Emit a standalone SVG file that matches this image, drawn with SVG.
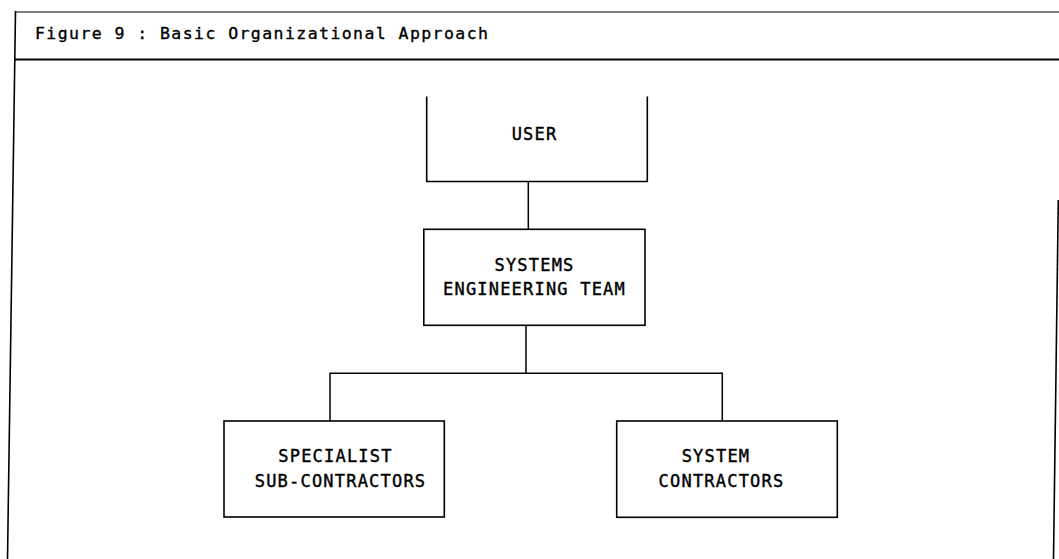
<svg xmlns="http://www.w3.org/2000/svg" width="1059" height="559" viewBox="0 0 1059 559">
  <style>
    .ln { fill: none; stroke: #000; stroke-width: 1.5; }
    .box { fill: none; stroke: #000; stroke-width: 1.6; }
    .lbl { font-family: "DejaVu Sans Mono", "Liberation Mono", monospace; font-size: 17px; letter-spacing: 1.2px; fill: #000; stroke: #000; stroke-width: 0.4; text-anchor: middle; }
    .title { font-family: "DejaVu Sans Mono", "Liberation Mono", monospace; font-size: 16.5px; fill: #000; stroke: #000; stroke-width: 0.35; }
  </style>
  <rect x="0" y="0" width="1059" height="559" fill="#fff"/>
  <g id="frame">
    <line x1="15" y1="12" x2="1059" y2="12" stroke="#555" stroke-width="1.5"/>
    <line x1="15" y1="59.5" x2="1059" y2="59.5" stroke="#000" stroke-width="1.8"/>
    <line x1="15.5" y1="11" x2="7.5" y2="559" stroke="#000" stroke-width="1.6"/>
    <line x1="1058.3" y1="200" x2="1053.5" y2="559" stroke="#000" stroke-width="1.6"/>
    <text class="title" x="35" y="38.5" textLength="453" lengthAdjust="spacing">Figure 9 : Basic Organizational Approach</text>
  </g>
  <g id="connectors">
    <line class="ln" x1="528.3" y1="181.5" x2="528.3" y2="229.5"/>
    <line class="ln" x1="526" y1="325.5" x2="526" y2="373.3"/>
    <polyline class="ln" points="330,421 330,373.3 722.3,373.3 722.3,421"/>
  </g>
  <g id="user">
    <path class="box" d="M426.7,96.5 V181.5 H647.3 V96.5"/>
    <text class="lbl" x="534.5" y="140">USER</text>
  </g>
  <g id="systems-engineering-team">
    <rect class="box" x="423.8" y="229.3" width="221.2" height="96"/>
    <text class="lbl" x="534.5" y="271">SYSTEMS</text>
    <text class="lbl" x="534.5" y="294.5">ENGINEERING TEAM</text>
  </g>
  <g id="specialist-sub-contractors">
    <rect class="box" x="224" y="421" width="220.3" height="96"/>
    <text class="lbl" x="335.5" y="462">SPECIALIST</text>
    <text class="lbl" x="340.5" y="486.5">SUB-CONTRACTORS</text>
  </g>
  <g id="system-contractors">
    <rect class="box" x="616.7" y="421" width="220.6" height="96.3"/>
    <text class="lbl" x="716" y="462">SYSTEM</text>
    <text class="lbl" x="721.5" y="486.5">CONTRACTORS</text>
  </g>
</svg>
